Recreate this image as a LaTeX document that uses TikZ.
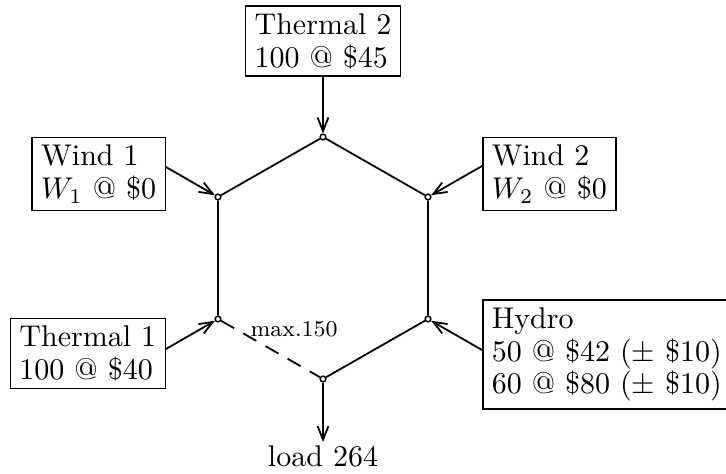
\documentclass[tikz,border=0pt]{standalone}
\usetikzlibrary{arrows.meta,calc}
\begin{document}
\begin{tikzpicture}[x=0.3333pt,y=-0.3333pt,
  box/.style={draw,line width=0.5pt,inner xsep=3pt,inner ysep=2.5pt,align=left,font=\fontsize{10}{10.9}\selectfont},
  vtx/.style={circle,draw,fill=white,line width=0.5pt,inner sep=0pt,minimum size=1.9pt},
  hexline/.style={line width=0.6pt},
  limline/.style={line width=0.6pt,dash pattern=on 5pt off 3.5pt},
  arr/.style={line width=0.6pt,-{Straight Barb[length=4.5pt,width=3.6pt]}}]
\useasboundingbox (0,0) rectangle (726,474);
% hexagon vertices
\node[vtx] (T)  at (323,137) {};
\node[vtx] (UL) at (218,197) {};
\node[vtx] (UR) at (428,197) {};
\node[vtx] (LL) at (218,319) {};
\node[vtx] (LR) at (428,319) {};
\node[vtx] (B)  at (323,379) {};
% hexagon edges
\draw[hexline] (T) -- (UR) -- (LR) -- (B);
\draw[hexline] (T) -- (UL) -- (LL);
\draw[limline] (LL) -- (B);
\node[font=\fontsize{7.5}{9}\selectfont,inner sep=0pt] (lim) at (294,329) {max.150};
% boxes
\node[box,anchor=south] (t2) at (323,77) {Thermal 2\\100 @ \$45};
\node[box,anchor=east] (w1) at (166,174) {Wind 1\\$W_1$ @ \$0};
\node[box,anchor=west] (w2) at (482,174) {Wind 2\\$W_2$ @ \$0};
\node[box,anchor=east] (t1) at (166,353.5) {Thermal 1\\100 @ \$40};
\node[box,anchor=west] (hy) at (482,354.5) {Hydro\\50 @ \$42 ($\pm$ \$10)\\60 @ \$80 ($\pm$ \$10)};
\node[inner sep=1pt,anchor=north] (load) at (323,442) {load 264};
% arrow start points on the box edges
\coordinate (w1s) at ($(UL)+(-52,-30)$);
\coordinate (w2s) at ($(UR)+(54,-31)$);
\coordinate (t1s) at ($(LL)+(-52,30)$);
\coordinate (hys) at ($(LR)+(54,31)$);
% arrows
\draw[arr] (t2.south) -- (T);
\draw[arr] (w1s) -- (UL);
\draw[arr] (w2s) -- (UR);
\draw[arr] (t1s) -- (LL);
\draw[arr] (hys) -- (LR);
\draw[arr] (B) -- (load.north);
\end{tikzpicture}
\end{document}
